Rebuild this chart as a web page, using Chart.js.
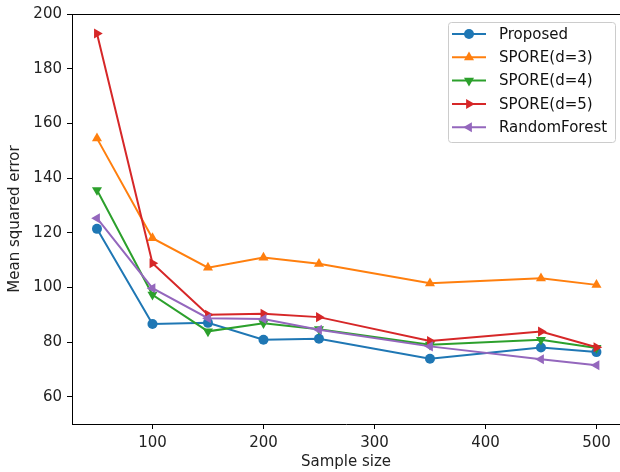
<!DOCTYPE html>
<html>
<head>
<meta charset="utf-8">
<script src="https://cdn.jsdelivr.net/npm/chart.js@4"></script>
<style>
  html, body { margin: 0; padding: 0; background: #fff; }
  #wrap { width: 620px; height: 472px; }
</style>
</head>
<body>
<div id="wrap"><canvas id="myChart" width="620" height="472"></canvas></div>
<script>
// data
const sampleSizes = [50, 100, 150, 200, 250, 350, 450, 500];
const proposed = [121.4, 86.6, 87.0, 80.8, 81.2, 73.9, 78.0, 76.3];
const spore3 = [154.5, 118.0, 107.2, 110.9, 108.6, 101.5, 103.3, 100.9];
const spore4 = [135.6, 97.3, 83.9, 86.9, 84.7, 79.0, 80.8, 77.8];
const spore5 = [192.9, 108.8, 90.0, 90.3, 89.1, 80.4, 83.8, 78.1];
const randomForest = [125.3, 99.7, 88.7, 88.4, 84.5, 78.4, 73.7, 71.5];

const xTicks = [100, 200, 300, 400, 500];
const yTicks = [60, 80, 100, 120, 140, 160, 180, 200];

const seriesNames = ['Proposed', 'SPORE(d=3)', 'SPORE(d=4)', 'SPORE(d=5)', 'RandomForest'];
const seriesValues = [proposed, spore3, spore4, spore5, randomForest];
const colors = ['#1f77b4', '#ff7f0e', '#2ca02c', '#d62728', '#9467bd'];
const markers = [
    { style: 'circle', rotation: 0 },
    { style: 'triangle', rotation: 0 },
    { style: 'triangle', rotation: 180 },
    { style: 'triangle', rotation: 90 },
    { style: 'triangle', rotation: 270 }
];

const FONT = 'DejaVu Sans';
const FS = 15;

const datasets = seriesNames.map((name, i) => ({
    label: name,
    data: sampleSizes.map((x, j) => ({ x: x, y: seriesValues[i][j] })),
    borderColor: colors[i],
    backgroundColor: colors[i],
    borderWidth: 2,
    pointStyle: markers[i].style,
    rotation: markers[i].rotation,
    pointRadius: i === 0 ? 5 : 5.8,
    pointBorderWidth: 0,
    tension: 0,
    order: 4 - i
}));

// no extra label padding, so the plot area is exactly what afterFit says
function noPad(s) {
    s.paddingLeft = 0;
    s.paddingRight = 0;
    s.paddingTop = 0;
    s.paddingBottom = 0;
}

// top spine + legend box like matplotlib
const framePlugin = {
    id: 'frame',
    afterDraw(chart) {
        const ctx = chart.ctx;
        const a = chart.chartArea;
        ctx.save();
        ctx.strokeStyle = '#000';
        ctx.lineWidth = 1;
        ctx.beginPath();
        ctx.moveTo(a.left, a.top + 0.5);
        ctx.lineTo(a.right, a.top + 0.5);
        ctx.stroke();

        // legend
        const bx = 448, by = 22, bw = 167, bh = 120, r = 3;
        ctx.fillStyle = 'rgba(255,255,255,0.8)';
        ctx.strokeStyle = '#cccccc';
        ctx.beginPath();
        ctx.roundRect(bx + 0.5, by + 0.5, bw, bh, r);
        ctx.fill();
        ctx.stroke();

        ctx.font = FS + 'px "' + FONT + '"';
        ctx.textBaseline = 'middle';
        ctx.textAlign = 'left';
        chart.data.datasets.forEach((ds, i) => {
            const y = 34 + i * 23.3;
            ctx.strokeStyle = ds.borderColor;
            ctx.lineWidth = ds.borderWidth;
            ctx.beginPath();
            ctx.moveTo(452, y);
            ctx.lineTo(486, y);
            ctx.stroke();
            ctx.fillStyle = ds.backgroundColor;
            Chart.helpers.drawPoint(ctx, {
                pointStyle: ds.pointStyle,
                rotation: ds.rotation,
                radius: ds.pointRadius,
                borderWidth: 0
            }, 469, y);
            ctx.fillStyle = '#111';
            ctx.fillText(ds.label, 499, y + 1);
        });
        ctx.restore();
    }
};

const ctx = document.getElementById('myChart').getContext('2d');
const myChart = new Chart(ctx, {
    type: 'line',
    data: { datasets: datasets },
    options: {
        responsive: false,
        animation: false,
        layout: { autoPadding: false, padding: { top: 14, right: 0, left: 0, bottom: 0 } },
        plugins: {
            legend: { display: false },
            tooltip: { enabled: false }
        },
        scales: {
            x: {
                type: 'linear',
                min: 27.5,
                max: 521.2,
                afterBuildTicks: s => { s.ticks = xTicks.map(v => ({ value: v })); },
                afterFit: s => { s.height = 48; noPad(s); },
                grid: { display: true, drawOnChartArea: false, tickLength: 5, tickColor: '#000', tickWidth: 1 },
                border: { color: '#000', width: 1 },
                ticks: { color: '#222', padding: 5, font: { family: FONT, size: FS }, maxRotation: 0 },
                title: { display: true, text: 'Sample size', color: '#222', font: { family: FONT, size: FS }, padding: { top: 0, bottom: 1 } }
            },
            y: {
                min: 50,
                max: 200,
                afterBuildTicks: s => { s.ticks = yTicks.map(v => ({ value: v })); },
                afterFit: s => { s.width = 72; noPad(s); },
                grid: { display: true, drawOnChartArea: false, tickLength: 5, tickColor: '#000', tickWidth: 1 },
                border: { color: '#000', width: 1 },
                ticks: { color: '#222', padding: 5, font: { family: FONT, size: FS } },
                title: { display: true, text: 'Mean squared error', color: '#222', font: { family: FONT, size: FS }, padding: { top: 6, bottom: 0 } }
            }
        }
    },
    plugins: [framePlugin]
});
</script>
</body>
</html>
